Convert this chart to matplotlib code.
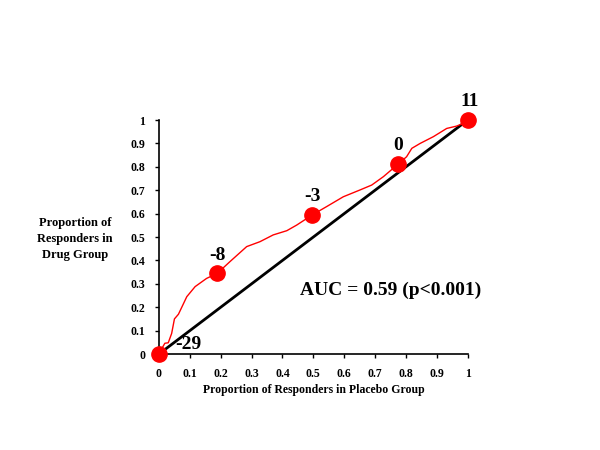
import numpy as np
import matplotlib.pyplot as plt

plt.rcParams['font.family'] = ['Liberation Serif', 'DejaVu Serif']
plt.rcParams['font.weight'] = 'bold'

# ROC curve
placebo = [0, 0.005, 0.012, 0.019, 0.03, 0.041, 0.05, 0.063, 0.09, 0.117, 0.154,
           0.189, 0.23, 0.284, 0.327, 0.37, 0.414, 0.446, 0.496, 0.543, 0.597,
           0.651, 0.689, 0.727, 0.775, 0.802, 0.819, 0.846, 0.889, 0.932, 0.964,
           0.986, 1.0]
drug = [0, 0.003, 0.03, 0.046, 0.048, 0.088, 0.15, 0.17, 0.245, 0.288, 0.323,
        0.345, 0.395, 0.459, 0.48, 0.509, 0.527, 0.551, 0.594, 0.63, 0.672,
        0.701, 0.722, 0.758, 0.812, 0.843, 0.879, 0.9, 0.929, 0.964, 0.974,
        0.986, 1.0]

# cut-off points
cut_x = [0, 0.189, 0.496, 0.775, 1.0]
cut_y = [0, 0.345, 0.594, 0.812, 1.0]
cut_labels = ['-29', '-8', '-3', '0', '11']
label_offsets = [(21, 6.5), (0, 12.5), (0, 13), (0, 13.5), (1.5, 13.5)]

ticks = np.arange(0, 1.01, 0.1)
tick_labels = ['0', '0.1', '0.2', '0.3', '0.4', '0.5', '0.6', '0.7', '0.8', '0.9', '1']

fig = plt.figure(figsize=(6, 4.5), dpi=100)
ax = fig.add_axes([0.265, 0.2133, 0.5145, 0.52])

ax.plot([0, 1], [0, 1], color='black', lw=2, clip_on=False)
ax.plot(placebo, drug, color='red', lw=1, clip_on=False)
ax.plot(cut_x, cut_y, 'o', color='red', markersize=11, clip_on=False, zorder=5)

for x, y, lab, off in zip(cut_x, cut_y, cut_labels, label_offsets):
    ax.annotate(lab, (x, y), xytext=off, textcoords='offset points',
                ha='center', va='center', fontsize=14, fontweight='bold')

ax.text(0.75, 0.27, 'AUC = 0.59 (p<0.001)', ha='center', va='center',
        fontsize=14, fontweight='bold')

ax.set_xlim(0, 1)
ax.set_ylim(0, 1)
ax.set_xticks(ticks)
ax.set_xticklabels(tick_labels)
ax.set_yticks(ticks)
ax.set_yticklabels(tick_labels)
ax.tick_params(labelsize=8.5, length=3, width=1, pad=7)
ax.spines['top'].set_visible(False)
ax.spines['right'].set_visible(False)
ax.spines['left'].set_linewidth(1.2)
ax.spines['bottom'].set_linewidth(1.2)

ax.set_xlabel('Proportion of Responders in Placebo Group', fontsize=8.5,
              fontweight='bold', labelpad=3)
fig.text(0.125, 0.469, 'Proportion of\nResponders in\nDrug Group', ha='center',
         va='center', fontsize=9, fontweight='bold', linespacing=1.45)

fig.savefig('out.png', dpi=100)
